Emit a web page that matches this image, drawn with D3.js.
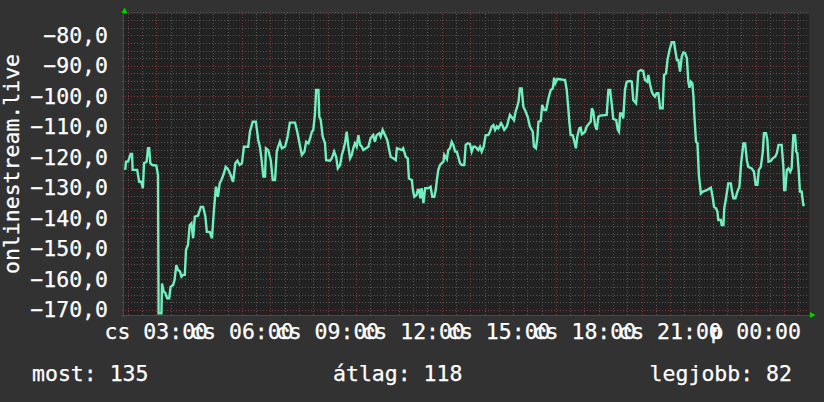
<!DOCTYPE html>
<html lang="hu">
<head>
<meta charset="UTF-8"/>
<title>onlinestream.live</title>
<script src="https://d3js.org/d3.v7.min.js"></script>
<style>
  body { margin: 0; background: #323232; }
  svg { display: block; }
  text { font-family: "DejaVu Sans Mono", monospace; fill: #ffffff; font-size: 21.5px; stroke: #ffffff; stroke-width: 0.25px; }
  .grid line { shape-rendering: crispEdges; stroke-dasharray: 1,2; stroke-width: 1px; }
  .minor { stroke: #575757; }
  .major { stroke: #803838; }
</style>
</head>
<body>
<script>
// time window shown (clock hours, Thursday 01:52 -> Friday 01:52)
var timeStart = 1.868, timeEnd = 25.868;

// series: clock hour (past 24 = next day) and value
var times = [1.91,1.94,2.01,2.10,2.15,2.17,2.33,2.40,2.47,2.53,2.57,2.66,2.71,2.75,2.79,2.86,3.00,3.06,3.08,3.18,
  3.20,3.26,3.32,3.38,3.45,3.50,3.59,3.64,3.70,3.76,3.83,3.88,3.94,4.00,4.04,4.11,4.17,4.23,4.29,4.35,
  4.46,4.56,4.64,4.72,4.77,4.87,4.95,5.02,5.09,5.16,5.22,5.28,5.37,5.43,5.51,5.58,5.69,5.77,5.84,5.92,
  6.00,6.07,6.22,6.28,6.38,6.49,6.57,6.63,6.69,6.75,6.81,6.84,6.92,7.01,7.08,7.16,7.22,7.27,7.33,7.40,
  7.51,7.59,7.68,7.86,7.95,8.04,8.10,8.19,8.25,8.33,8.39,8.45,8.50,8.56,8.60,8.68,8.71,8.76,8.83,8.91,
  8.95,9.09,9.15,9.23,9.30,9.36,9.44,9.50,9.55,9.61,9.67,9.73,9.79,9.85,9.90,9.96,10.02,10.08,10.14,10.20,
  10.25,10.35,10.43,10.51,10.60,10.66,10.72,10.81,10.86,10.93,11.01,11.09,11.16,11.21,11.30,11.39,11.43,11.60,11.65,11.74,
  11.81,11.85,11.95,12.00,12.04,12.12,12.16,12.21,12.25,12.30,12.36,12.42,12.53,12.61,12.67,12.74,12.79,12.83,12.88,12.94,
  13.00,13.06,13.09,13.18,13.23,13.29,13.35,13.41,13.47,13.53,13.58,13.64,13.70,13.79,13.84,13.91,13.99,14.05,14.11,14.17,
  14.23,14.28,14.34,14.40,14.47,14.54,14.63,14.69,14.75,14.81,14.87,14.93,14.98,15.08,15.12,15.19,15.28,15.34,15.39,15.48,
  15.53,15.59,15.63,15.69,15.74,15.80,15.86,15.94,16.01,16.09,16.19,16.23,16.30,16.35,16.39,16.47,16.52,16.59,16.66,16.74,
  16.82,16.89,16.94,16.98,17.05,17.15,17.26,17.32,17.38,17.44,17.47,17.52,17.59,17.65,17.70,17.75,17.82,17.87,17.91,17.96,
  18.02,18.08,18.17,18.22,18.26,18.31,18.37,18.43,18.49,18.55,18.78,18.84,18.90,18.96,19.01,19.11,19.17,19.21,19.25,19.31,
  19.36,19.42,19.48,19.60,19.66,19.71,19.81,19.85,19.89,19.97,20.06,20.12,20.20,20.24,20.30,20.36,20.42,20.47,20.53,20.59,
  20.65,20.74,20.79,20.86,20.91,20.98,21.06,21.14,21.18,21.24,21.29,21.35,21.41,21.47,21.53,21.59,21.64,21.68,21.73,21.78,
  21.82,21.85,21.91,21.96,22.01,22.08,22.15,22.29,22.43,22.50,22.54,22.61,22.66,22.69,22.78,22.81,22.87,22.90,22.96,23.04,
  23.13,23.17,23.22,23.29,23.36,23.43,23.49,23.57,23.63,23.69,23.74,23.86,23.94,24.00,24.06,24.11,24.18,24.25,24.29,24.36,
  24.41,24.45,24.53,24.60,24.68,24.74,24.80,24.91,24.97,25.00,25.04,25.09,25.15,25.21,25.26,25.32,25.38,25.42,25.46,25.51,
  25.55,25.61,25.67,25.72];

var values = [-124.1,-121.4,-121.4,-118.9,-118.9,-124.1,-124.1,-128.0,-128.0,-130.1,-121.9,-121.4,-117.0,-117.0,-121.9,-122.5,-122.7,-125.8,-171.1,-171.1,
  -161.3,-164.0,-164.5,-166.2,-166.2,-162.4,-161.8,-160.2,-155.3,-156.9,-157.4,-159.1,-158.5,-158.5,-150.3,-148.7,-142.2,-141.6,-146.5,-139.4,
  -139.1,-136.2,-136.2,-139.4,-144.4,-144.4,-146.5,-137.2,-129.6,-132.9,-128.5,-127.4,-125.2,-123.1,-123.9,-125.2,-128.0,-121.9,-121.1,-122.5,
  -121.9,-116.5,-116.5,-111.6,-108.3,-108.3,-114.3,-116.5,-120.9,-126.3,-126.3,-117.0,-117.6,-120.9,-127.4,-127.4,-118.1,-116.5,-114.9,-117.0,
  -116.5,-113.7,-108.6,-108.6,-112.1,-116.5,-119.2,-118.1,-114.9,-115.4,-113.7,-111.6,-111.0,-105.6,-97.9,-97.9,-106.7,-107.7,-113.2,-115.4,
  -120.9,-121.1,-120.3,-118.1,-119.8,-123.6,-122.5,-119.2,-117.6,-115.4,-111.6,-116.5,-120.3,-119.2,-117.0,-115.4,-116.5,-112.7,-115.9,-116.5,
  -117.6,-117.0,-116.5,-113.7,-112.7,-114.9,-112.7,-112.1,-113.2,-111.0,-112.7,-114.3,-117.6,-119.8,-120.3,-120.9,-117.0,-117.6,-117.0,-119.8,
  -120.3,-126.9,-127.4,-131.2,-132.9,-132.3,-130.7,-130.7,-133.4,-130.1,-135.0,-130.1,-130.1,-129.6,-132.9,-132.9,-130.7,-127.4,-124.1,-122.5,
  -121.9,-121.4,-119.2,-120.6,-117.6,-117.0,-114.9,-116.0,-118.1,-118.1,-119.8,-121.9,-122.5,-122.5,-115.9,-115.4,-115.6,-118.1,-116.5,-116.5,
  -117.0,-117.6,-116.5,-118.1,-116.5,-112.7,-112.7,-111.6,-109.9,-109.4,-111.0,-109.9,-110.5,-108.8,-109.4,-111.0,-109.9,-107.8,-106.1,-107.2,
  -107.8,-105.0,-103.9,-101.8,-97.4,-97.4,-103.4,-105.0,-106.7,-109.9,-111.6,-116.5,-117.0,-113.7,-108.3,-108.1,-102.8,-104.5,-104.5,-100.6,
  -97.9,-97.4,-93.9,-95.7,-94.3,-94.4,-94.6,-94.6,-97.9,-104.5,-108.3,-112.7,-112.7,-114.9,-117.0,-113.2,-110.5,-110.3,-112.4,-112.1,
  -111.6,-109.9,-108.8,-108.3,-103.9,-105.0,-109.4,-111.0,-106.7,-106.3,-106.1,-97.9,-97.9,-102.8,-107.4,-107.8,-111.0,-111.6,-105.6,-105.6,
  -107.2,-97.9,-95.2,-95.0,-95.2,-101.2,-102.3,-97.4,-91.9,-91.4,-91.7,-94.6,-95.2,-93.0,-96.1,-98.5,-99.6,-100.1,-99.0,-99.0,
  -103.9,-103.9,-93.0,-92.5,-88.1,-84.8,-82.3,-82.3,-84.8,-88.1,-88.1,-91.9,-87.0,-85.6,-85.9,-87.5,-95.2,-97.2,-95.2,-95.7,
  -100.1,-106.1,-114.9,-115.4,-125.8,-131.8,-131.2,-130.7,-129.9,-133.4,-136.2,-136.7,-137.8,-140.5,-140.5,-142.2,-142.2,-136.7,-133.4,-128.5,
  -128.5,-131.2,-133.4,-133.4,-131.2,-129.6,-121.9,-115.4,-115.4,-120.9,-123.1,-123.6,-124.7,-129.0,-129.0,-124.1,-123.1,-118.1,-112.1,-112.1,
  -114.3,-121.4,-121.2,-120.3,-119.8,-118.7,-115.9,-115.9,-123.1,-130.7,-130.7,-124.1,-123.6,-124.7,-123.6,-112.7,-112.7,-118.1,-118.7,-124.7,
  -131.2,-131.2,-135.6,-135.6];

// axis ticks and texts
var yTickValues = [-170, -160, -150, -140, -130, -120, -110, -100, -90, -80];
var xTickHours = [3, 6, 9, 12, 15, 18, 21, 24];
var xTickLabels = ["cs 03:00", "cs 06:00", "cs 09:00", "cs 12:00", "cs 15:00", "cs 18:00", "cs 21:00", "p 00:00"];
var axisTitle = "onlinestream.live";
var legendTexts = ["most: 135", "átlag: 118", "legjobb: 82"];

var W = 824, H = 402;
var plot = {left: 124, right: 809, top: 14, bottom: 315};

var svg = d3.select("body").append("svg")
    .attr("width", W)
    .attr("height", H);

svg.append("rect").attr("width", W).attr("height", H).attr("fill", "#323232");
svg.append("rect")
    .attr("x", plot.left).attr("y", plot.top)
    .attr("width", plot.right - plot.left).attr("height", plot.bottom - plot.top)
    .attr("fill", "#222222");

var x = d3.scaleLinear().domain([timeStart, timeEnd]).range([plot.left, plot.right]);
var y = d3.scaleLinear().domain([-171.64, -73.02]).range([plot.bottom, plot.top]);

var grid = svg.append("g").attr("class", "grid");

// minor grid: every 2.5 units / every half hour
var yMinor = d3.range(-170, -72, 2.5).filter(function (v) { return v % 10 !== 0; });
var xMinor = d3.range(2, 26, 0.5).filter(function (h) { return h % 1 !== 0; });
var yMajor = d3.range(-170, -72, 10);
var xMajor = d3.range(2, 26, 1);

function snap(v) { return Math.round(v) + 0.5; }

grid.selectAll("line.hy").data(yMinor).enter().append("line")
    .attr("class", "minor hy")
    .attr("x1", plot.left - 2).attr("x2", plot.right)
    .attr("y1", function (d) { return snap(y(d)); })
    .attr("y2", function (d) { return snap(y(d)); });
grid.selectAll("line.vx").data(xMinor).enter().append("line")
    .attr("class", "minor vx")
    .attr("y1", plot.top).attr("y2", plot.bottom + 2)
    .attr("x1", function (d) { return snap(x(d)); })
    .attr("x2", function (d) { return snap(x(d)); });
grid.selectAll("line.hY").data(yMajor).enter().append("line")
    .attr("class", "major hY")
    .attr("x1", plot.left - 2).attr("x2", plot.right)
    .attr("y1", function (d) { return snap(y(d)); })
    .attr("y2", function (d) { return snap(y(d)); });
grid.selectAll("line.vX").data(xMajor).enter().append("line")
    .attr("class", "major vX")
    .attr("y1", plot.top).attr("y2", plot.bottom + 2)
    .attr("x1", function (d) { return snap(x(d)); })
    .attr("x2", function (d) { return snap(x(d)); });

// axis lines
svg.append("line")
    .attr("x1", plot.left - 0.5).attr("x2", plot.left - 0.5)
    .attr("y1", plot.top - 2).attr("y2", plot.bottom + 3)
    .attr("stroke", "#4a4a4a");
svg.append("line")
    .attr("x1", plot.left - 3).attr("x2", plot.right + 2)
    .attr("y1", plot.bottom + 0.5).attr("y2", plot.bottom + 0.5)
    .attr("stroke", "#4a4a4a");

// green arrow heads
svg.append("path").attr("d", "M121.5,13 L124.5,7.5 L127.5,13 Z").attr("fill", "#00d000");
svg.append("path").attr("d", "M810,312 L815.5,315 L810,318 Z").attr("fill", "#00d000");

// series line
var pts = times.map(function (t, i) { return [t, values[i]]; });
svg.append("path")
    .datum(pts)
    .attr("fill", "none")
    .attr("stroke", "#72efbf")
    .attr("stroke-width", 2.4)
    .attr("stroke-linejoin", "miter")
    .attr("d", d3.line()
        .x(function (d) { return x(d[0]); })
        .y(function (d) { return y(d[1]); }));

// y tick labels
var fmt = d3.format(".1f");
svg.selectAll("text.ylab").data(yTickValues).enter().append("text")
    .attr("class", "ylab")
    .attr("x", 108)
    .attr("y", function (d) { return y(d) + 7.5; })
    .attr("text-anchor", "end")
    .text(function (d) { return fmt(d).replace(".", ","); });

// x tick labels
svg.selectAll("text.xlab").data(xTickHours).enter().append("text")
    .attr("class", "xlab")
    .attr("x", function (d) { return x(d); })
    .attr("y", 339)
    .attr("text-anchor", "middle")
    .text(function (d, i) { return xTickLabels[i]; });

// vertical title
svg.append("text")
    .attr("transform", "translate(19,164) rotate(-90)")
    .attr("text-anchor", "middle")
    .text(axisTitle);

// legend line
svg.append("text").attr("x", 32).attr("y", 381).text(legendTexts[0]);
svg.append("text").attr("x", 333).attr("y", 381).text(legendTexts[1]);
svg.append("text").attr("x", 792).attr("y", 381).attr("text-anchor", "end").text(legendTexts[2]);
</script>
</body>
</html>
